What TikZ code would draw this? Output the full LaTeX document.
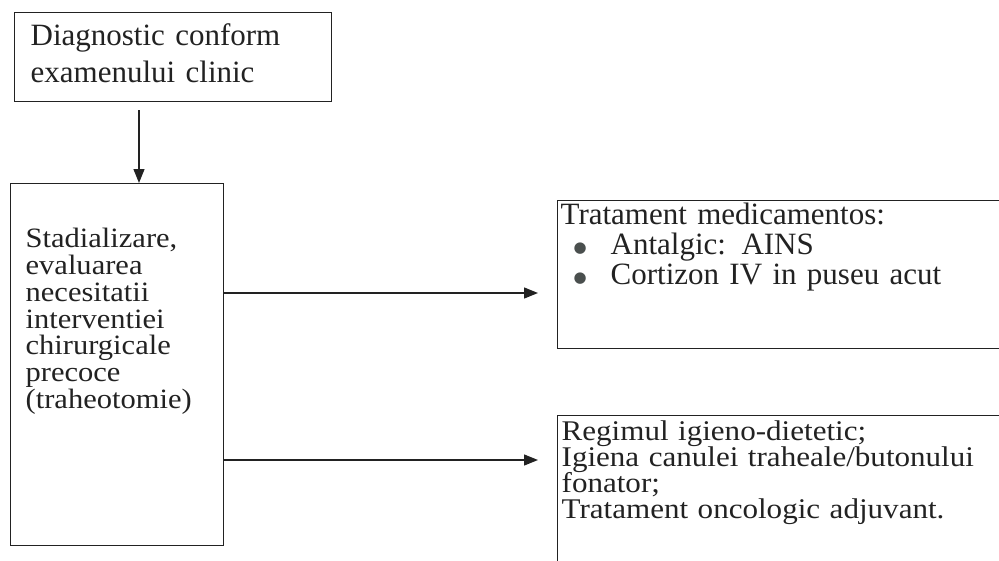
\documentclass[tikz,border=0pt]{standalone}
\usepackage{fontspec}
\setmainfont{Liberation Serif}
\newfontfamily\widefont{Liberation Serif}[FakeStretch=1.09]
\newfontfamily\dotfont{DejaVu Sans}
\usetikzlibrary{arrows.meta}
\definecolor{ink}{HTML}{222222}
\definecolor{dotgray}{HTML}{4A4F4E}
\newcommand{\tightfont}[2]{\fontsize{#1}{#2}\selectfont\lineskiplimit=-100pt}
\newcommand{\dotitem}{\makebox[50pt][l]{\hspace{13pt}\raisebox{2.5pt}{\dotfont\fontsize{15}{15}\selectfont\textcolor{dotgray}{●}}}}
\tikzset{
  box/.style={draw=ink, line width=1.3pt, anchor=north west, align=left,
    inner ysep=0pt, text=ink},
  arr/.style={draw=ink, line width=1.3pt,
    -{Triangle[length=14pt,width=11pt]}}
}
\begin{document}
\begin{tikzpicture}[x=1pt,y=-1pt]
  \useasboundingbox (0,0) rectangle (999,560);
  \node[box, inner xsep=16pt, text width=285pt, text height=33pt, text depth=56pt,
    font=\tightfont{31}{37}] (diag) at (14,12)
    {Diagnostic conform\\examenului clinic};
  \node[box, inner xsep=15pt, text width=183pt, text height=64pt, text depth=298pt,
    font=\widefont\tightfont{28}{26.8}] (stad) at (10,183)
    {Stadializare,\\evaluarea\\necesitatii\\interventiei\\chirurgicale\\precoce\\(traheotomie)};
  \node[box, inner xsep=3pt, text width=442pt, text height=24pt, text depth=124pt,
    font=\tightfont{31}{30}] (medic) at (557,200)
    {Tratament medicamentos:\\\dotitem Antalgic: AINS\\\dotitem Cortizon IV in puseu acut};
  \node[box, inner xsep=4pt, text width=440pt, text height=25pt, text depth=135pt,
    font=\widefont\tightfont{28.5}{26}] (regim) at (557,415)
    {Regimul igieno-dietetic;\\Igiena canulei traheale/butonului\\fonator;\\Tratament oncologic adjuvant.};
  \coordinate (s0) at (139,110);
  \coordinate (t1) at (538,293);
  \coordinate (t2) at (538,460);
  \begin{scope}[arr]
    \draw (s0) -- (s0 |- stad.north);
    \draw (stad.east |- t1) -- (t1);
    \draw (stad.east |- t2) -- (t2);
  \end{scope}
\end{tikzpicture}
\end{document}
